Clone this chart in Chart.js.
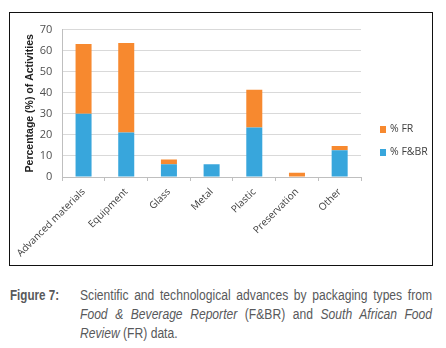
<!DOCTYPE html>
<html>
<head>
<meta charset="utf-8">
<script src="https://cdn.jsdelivr.net/npm/chart.js@4/dist/chart.umd.min.js"></script>
<style>
  html, body { margin: 0; padding: 0; background: #fff; }
  body { width: 446px; height: 348px; position: relative; overflow: hidden; }
  #box { position: absolute; left: 9px; top: 12px; width: 422px; height: 252px; border: 1px solid #111; }
  #box canvas { display: block; }
  #cap { position: absolute; left: 10px; top: 286px; width: 422px; color: #58595b;
         font-family: "Liberation Sans", Arial, sans-serif; font-size: 14px; line-height: 19px; }
  #cap .fig { position: absolute; left: 0; top: 0; font-weight: bold; transform: scaleX(0.83); transform-origin: 0 0; }
  #cap .txt { position: absolute; left: 70px; top: 0; width: 407px; transform: scaleX(0.865); transform-origin: 0 0; }
  #cap .ln { text-align: justify; text-align-last: justify; white-space: nowrap; }
  #cap .ln.last { text-align-last: left; }
</style>
</head>
<body>
<div id="box"><canvas id="c" width="422" height="252"></canvas></div>
<div id="cap">
  <div class="fig">Figure 7:</div>
  <div class="txt">
    <div class="ln">Scientific and technological advances by packaging types from</div>
    <div class="ln"><i>Food &amp; Beverage Reporter</i> (F&amp;BR) and <i>South African Food</i></div>
    <div class="ln last"><i>Review</i> (FR) data.</div>
  </div>
</div>
<script>
const categories = ["Advanced materials", "Equipment", "Glass", "Metal", "Plastic", "Preservation", "Other"];
const fbrValues = [30, 21.1, 6, 6, 23.5, 0, 12.7];
const frValues = [33.2, 42.5, 2.3, 0, 17.9, 2, 2];
const yTicks = [0, 10, 20, 30, 40, 50, 60, 70];

const BLUE = "#38a6dc";
const ORANGE = "#f7892f";
const GRID = "#d9d9d9";
const AXIS = "#bfbfbf";
const TXT = "#404040";
const tickFont = { family: "'Open Sans', 'Noto Sans', sans-serif", size: 10 };

const legendPlugin = {
  id: "customLegend",
  afterDraw(chart) {
    const ctx = chart.ctx;
    const ds = chart.data.datasets.slice().reverse();
    ctx.save();
    ctx.font = "10.5px 'Open Sans', 'Noto Sans', sans-serif";
    ctx.textBaseline = "middle";
    ds.forEach((d, i) => {
      const y = 116 + i * 23;
      ctx.fillStyle = d.backgroundColor;
      ctx.fillRect(370, y - 3, 6, 7);
      ctx.fillStyle = TXT;
      ctx.fillText(d.label, 380, y);
    });
    ctx.restore();
  }
};

new Chart(document.getElementById("c"), {
  type: "bar",
  data: {
    labels: categories,
    datasets: [
      { label: "% F&BR", data: fbrValues, backgroundColor: BLUE, borderWidth: 0 },
      { label: "% FR", data: frValues, backgroundColor: ORANGE, borderWidth: 0 }
    ]
  },
  options: {
    responsive: false,
    animation: false,
    devicePixelRatio: 1,
    layout: { padding: { top: 11, right: 71, bottom: 0, left: 0 } },
    plugins: { legend: { display: false }, tooltip: { enabled: false } },
    datasets: { bar: { categoryPercentage: 1, barPercentage: 0.375 } },
    scales: {
      x: {
        stacked: true,
        afterFit(s) { s.height = 88; },
        grid: {
          offset: true,
          drawOnChartArea: true,
          drawTicks: true,
          tickLength: 4,
          tickColor: AXIS,
          color: (c) => (c.index === categories.length ? AXIS : "rgba(0,0,0,0)")
        },
        border: { color: AXIS },
        ticks: { color: TXT, font: tickFont, maxRotation: 45, minRotation: 45, padding: 5, autoSkip: false }
      },
      y: {
        stacked: true,
        min: 0, max: 70,
        afterFit(s) { s.width = 52; },
        afterBuildTicks(s) { s.ticks = yTicks.map(v => ({ value: v })); },
        grid: { color: GRID, drawTicks: false },
        border: { color: AXIS },
        ticks: { color: "#505050", font: { family: "'Open Sans', 'Noto Sans', sans-serif", size: 11 }, padding: 10 },
        title: {
          display: true,
          text: "Percentage (%) of Activities",
          color: "#222",
          font: { family: "'Liberation Sans', Arial, sans-serif", size: 10.5, weight: "bold" },
          padding: { top: 14, bottom: 0 }
        }
      }
    }
  },
  plugins: [legendPlugin]
});
</script>
</body>
</html>
